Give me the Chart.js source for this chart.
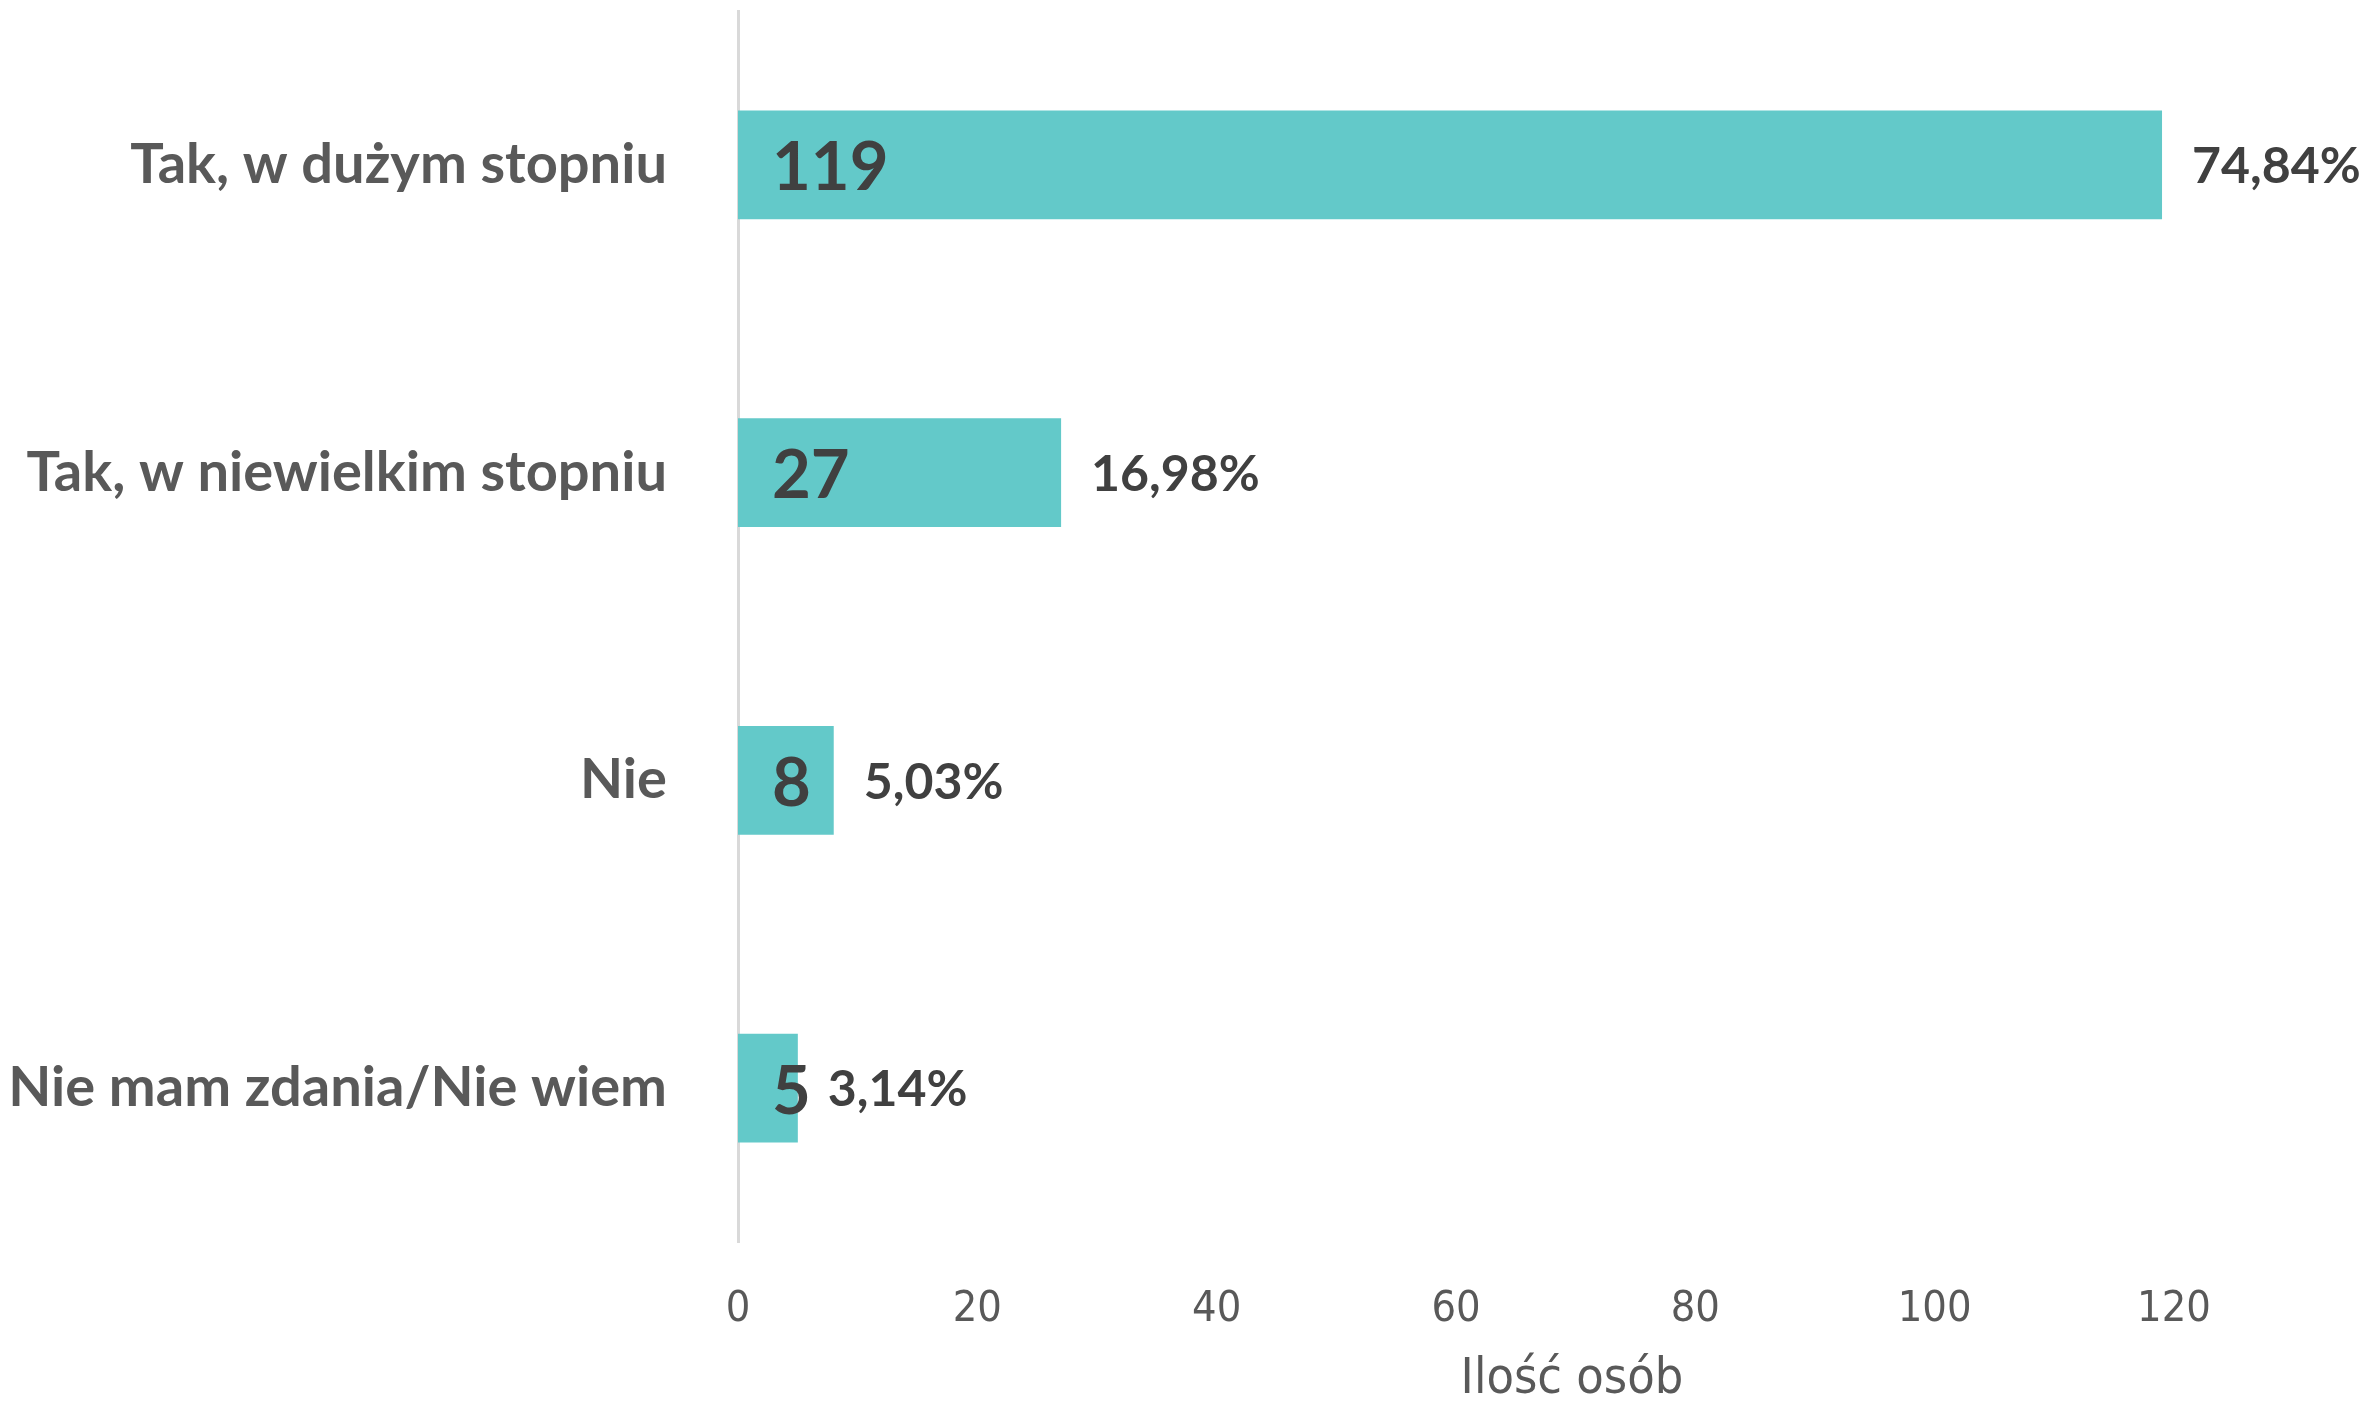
<!DOCTYPE html>
<html>
<head>
<meta charset="utf-8">
<script src="https://cdn.jsdelivr.net/npm/chart.js@4"></script>
<style>
  html, body { margin: 0; padding: 0; background: #ffffff; }
  #wrap { width: 2370px; height: 1402px; position: relative; }
</style>
</head>
<body>
<div id="wrap"><canvas id="c" width="2370" height="1402"></canvas></div>
<script>
const categories = ["Tak, w dużym stopniu", "Tak, w niewielkim stopniu", "Nie", "Nie mam zdania/Nie wiem"];
const counts = [119, 27, 8, 5];
const percentLabels = ["74,84%", "16,98%", "5,03%", "3,14%"];
const xTicks = [0, 20, 40, 60, 80, 100, 120];
const xTitle = "Ilość osób";

const BAR = "#63C9C9";
const FONT = "Lato, 'Open Sans', sans-serif";
const NARROW = "'Liberation Sans Narrow', 'DejaVu Sans Condensed', sans-serif";

const labelPlugin = {
  id: 'barLabels',
  afterDatasetsDraw(chart) {
    const ctx = chart.ctx;
    const meta = chart.getDatasetMeta(0);
    const xs = chart.scales.x;
    ctx.save();
    meta.data.forEach((bar, i) => {
      const y = bar.y;
      ctx.fillStyle = "#404040";
      ctx.font = "bold 67px " + FONT;
      ctx.textAlign = "left";
      ctx.textBaseline = "middle";
      ctx.fillText(String(counts[i]), xs.getPixelForValue(0) + 34, y + 4);
      ctx.font = "bold 50px " + FONT;
      ctx.fillText(percentLabels[i], bar.x + 30, y + 2);
    });
    ctx.fillStyle = "#595959";
    ctx.font = "50px " + NARROW;
    ctx.textAlign = "center";
    ctx.textBaseline = "middle";
    ctx.fillText(xTitle, 1572, 1380);
    ctx.restore();
  }
};

new Chart(document.getElementById('c'), {
  type: 'bar',
  data: {
    labels: categories,
    datasets: [{
      data: counts,
      backgroundColor: BAR,
      borderWidth: 0,
      categoryPercentage: 1.0,
      barPercentage: 0.354
    }]
  },
  options: {
    indexAxis: 'y',
    responsive: false,
    animation: false,
    devicePixelRatio: 1,
    layout: { padding: { top: 11, right: 196, left: 0, bottom: 0 } },
    plugins: { legend: { display: false }, tooltip: { enabled: false } },
    scales: {
      x: {
        min: 0, max: 120,
        afterBuildTicks(s) { s.ticks = xTicks.map(v => ({ value: v })); },
        grid: { display: false, drawTicks: false },
        border: { display: false },
        ticks: { color: "#595959", font: { family: NARROW, size: 43 }, padding: 42 },
        afterFit(s) { s.height = 160; s.paddingLeft = 0; s.paddingRight = 0; }
      },
      y: {
        grid: { display: false, drawTicks: false },
        border: { display: true, color: "#d9d9d9", width: 3 },
        ticks: { color: "#595959", font: { family: FONT, size: 56, weight: 'bold' }, padding: 71 },
        afterFit(s) { s.width = 738; s.paddingTop = 0; s.paddingBottom = 0; }
      }
    }
  },
  plugins: [labelPlugin]
});
</script>
</body>
</html>
